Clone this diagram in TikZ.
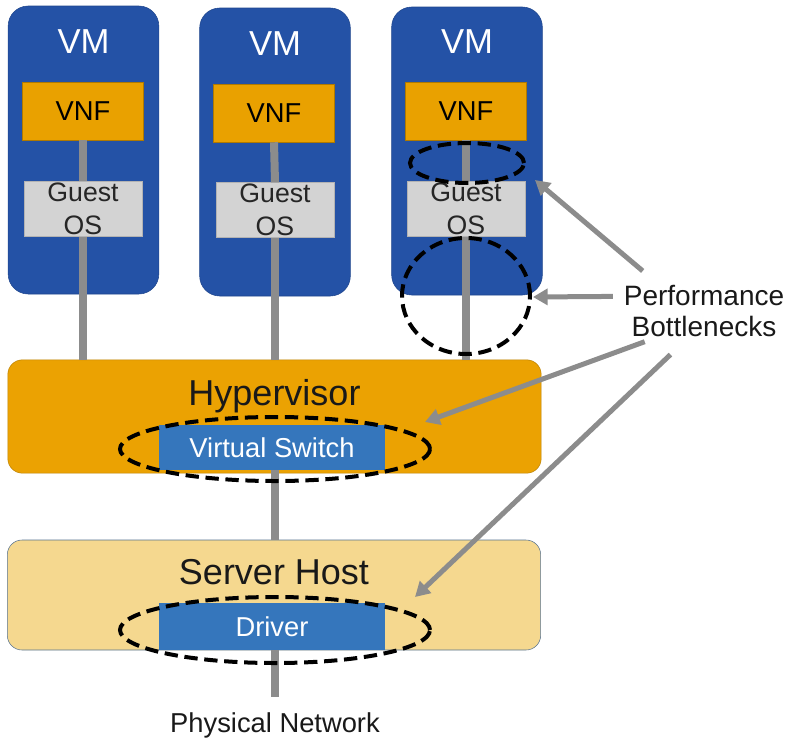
\documentclass[tikz,border=0pt]{standalone}
\usepackage{fontspec}
\setmainfont{Liberation Sans}
\usetikzlibrary{shapes.geometric,arrows.meta}

\definecolor{vmblue}{HTML}{2452A6}
\definecolor{vnforange}{HTML}{E9A100}
\definecolor{osgray}{HTML}{D3D3D3}
\definecolor{hyperorange}{HTML}{EBA202}
\definecolor{hostyellow}{HTML}{F5D88F}
\definecolor{hostedge}{HTML}{56728F}
\definecolor{switchblue}{HTML}{3576BC}
\definecolor{linegray}{HTML}{8C8C8C}

\begin{document}
\begin{tikzpicture}[x=0.75pt, y=-0.75pt,
    vmbox/.style={draw=vmblue!85!black, fill=vmblue, rounded corners=15pt,
        minimum width=113pt, minimum height=216pt},
    vnfbox/.style={draw=vnforange!75!black, fill=vnforange, minimum width=90.75pt,
        minimum height=43.5pt, font=\fontsize{20.5}{25}\selectfont},
    osbox/.style={draw=osgray!85!black, fill=osgray, minimum width=88.5pt,
        minimum height=41pt, inner sep=0pt, align=center,
        font=\fontsize{20}{25}\selectfont, text=black!85},
    layer/.style={rounded corners=11pt, minimum width=400pt},
    innerbox/.style={fill=switchblue, minimum width=170pt, text=white,
        font=\fontsize{20.5}{25}\selectfont},
    link/.style={draw=linegray, line width=6pt},
    bneck/.style={ellipse, draw=black, line width=3pt, dash pattern=on 10pt off 5pt,
        inner sep=0pt},
    perfarrow/.style={draw=linegray, line width=3.75pt,
        -{Triangle[length=11pt, width=12pt]}},
    big/.style={font=\fontsize{27}{30}\selectfont, text=black!90}
]
    \useasboundingbox (0,0) rectangle (788,746);

    % virtual machines
    \node[vmbox] (vm1) at (83.5,150) {};
    \node[vmbox] (vm2) at (275,152) {};
    \node[vmbox] (vm3) at (467,151) {};
    \node[text=white, font=\fontsize{26}{30}\selectfont] (vmt1) at (83.5,42) {VM};
    \node[text=white, font=\fontsize{26}{30}\selectfont] (vmt2) at (275,44) {VM};
    \node[text=white, font=\fontsize{26}{30}\selectfont] (vmt3) at (467,42) {VM};

    \node[vnfbox] (vnf1) at (83,111) {VNF};
    \node[vnfbox] (vnf2) at (274,113) {VNF};
    \node[vnfbox] (vnf3) at (466,111) {VNF};

    \node[osbox] (os1) at (83,209) {Guest\\OS};
    \node[osbox] (os2) at (275,210) {Guest\\OS};
    \node[osbox] (os3) at (466,209) {Guest\\OS};

    % hypervisor and host
    \node[layer, draw=hyperorange!80!black, fill=hyperorange, minimum height=85pt]
        (hyper) at (274.5,416.5) {};
    \node[big] (hypert) at (274.5,396) {Hypervisor};

    \node[layer, draw=hostedge, fill=hostyellow, minimum height=82.5pt]
        (host) at (274,595) {};
    \node[big] (hostt) at (274,572) {Server Host};

    \coordinate (net) at (275,697);

    \draw[link] (vnf1.south) -- (os1.north);
    \draw[link] (vnf2.south) -- (os2.north);
    \draw[link] (vnf3.south) -- (os3.north);
    \draw[link] (os1.south) -- (os1.south |- hyper.north);
    \draw[link] (os2.south) -- (os2.south |- hyper.north);
    \draw[link] (os3.south) -- (os3.south |- hyper.north);

    \node[innerbox, minimum height=34pt] (vsw) at (272,447.5) {Virtual Switch};
    \node[innerbox, minimum height=35pt] (drv) at (272,626.5) {Driver};

    \draw[link] (vsw.south -| net) -- (host.north -| net);
    \draw[link] (drv.south -| net) -- (net);

    \node[font=\fontsize{20.5}{25}\selectfont, text=black!90] (phys) at (275,725) {Physical Network};

    % bottlenecks
    \node[bneck, minimum width=85.5pt, minimum height=30pt] (bn1) at (467,163) {};
    \node[bneck, minimum width=96pt, minimum height=87pt] (bn2) at (466,296) {};
    \node[bneck, minimum width=232.5pt, minimum height=48pt] (bn3) at (275,449) {};
    \node[bneck, minimum width=232.5pt, minimum height=49.5pt] (bn4) at (275,630) {};

    \node[align=center, font=\fontsize{21}{23.5}\selectfont, text=black!90, inner sep=2pt]
        (perf) at (704,311) {Performance\\Bottlenecks};

    \coordinate (tip1) at (535,180);
    \coordinate (tip2) at (533,297);
    \coordinate (tip3) at (425,422);
    \coordinate (tip4) at (415,597);

    \draw[perfarrow, shorten <=13pt] (perf.149) -- (tip1);
    \draw[perfarrow, shorten <=6pt] (perf.170) -- (tip2);
    \draw[perfarrow, shorten <=4pt] (perf.208) -- (tip3);
    \draw[perfarrow, shorten <=16pt] (perf.238) -- (tip4);
\end{tikzpicture}
\end{document}
